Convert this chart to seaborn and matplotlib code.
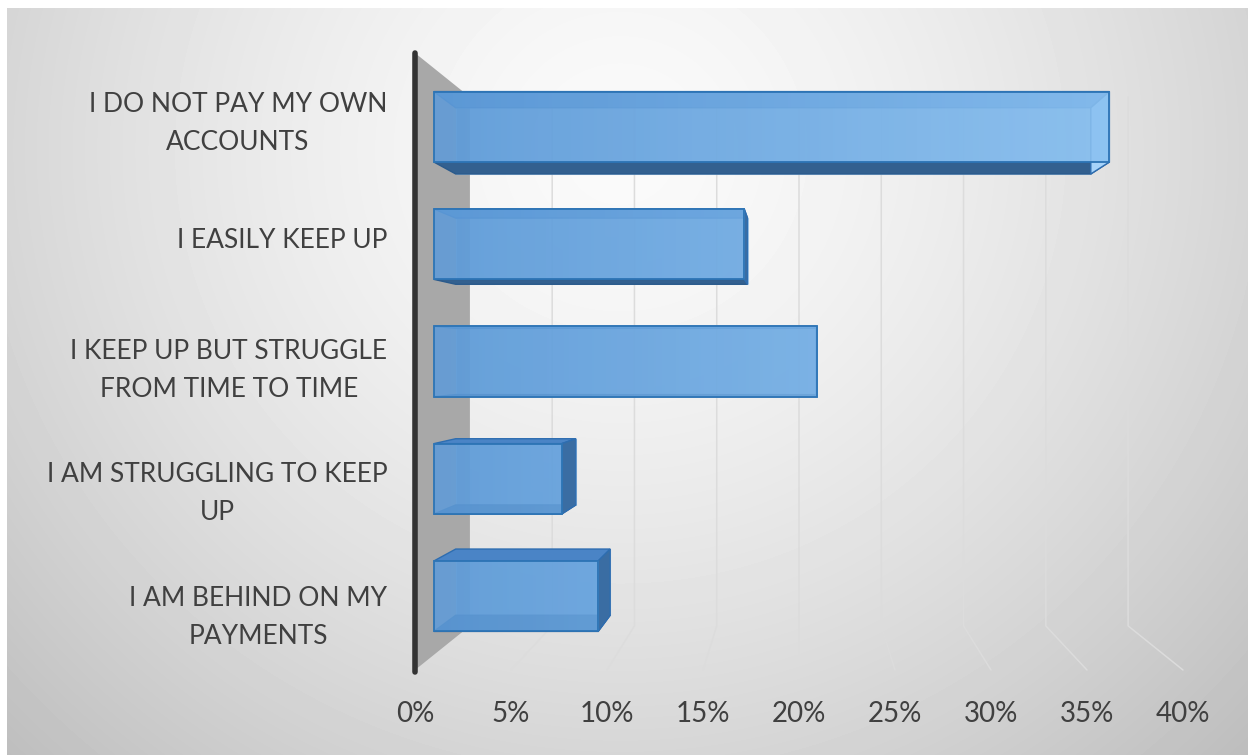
import numpy as np
import pandas as pd
import matplotlib
matplotlib.use("Agg")
import matplotlib.pyplot as plt
import matplotlib.transforms as mtransforms
from matplotlib.patches import Polygon, Rectangle
from matplotlib.colors import LinearSegmentedColormap
import seaborn as sns

# ---- data ----
categories = ["I DO NOT PAY MY OWN ACCOUNTS", "I EASILY KEEP UP",
              "I KEEP UP BUT STRUGGLE FROM TIME TO TIME",
              "I AM STRUGGLING TO KEEP UP", "I AM BEHIND ON MY PAYMENTS"]
values = [37, 17, 21, 7, 9]
category_labels = ["I DO NOT PAY MY OWN\nACCOUNTS", "I EASILY KEEP UP",
                   "I KEEP UP BUT STRUGGLE\nFROM TIME TO TIME",
                   "I AM STRUGGLING TO KEEP\nUP", "I AM BEHIND ON MY\nPAYMENTS"]
x_ticks = [0, 5, 10, 15, 20, 25, 30, 35, 40]
x_tick_labels = ["0%", "5%", "10%", "15%", "20%", "25%", "30%", "35%", "40%"]

sns.set_theme(style="white")
plt.rcParams["font.family"] = ["Lato", "DejaVu Sans"]

W, H = 1248, 755
fig = plt.figure(figsize=(W / 100, H / 100), dpi=100)
fig.patch.set_facecolor("white")

# ---- background radial gradient ----
bx0, by0 = 7, 8
bg = fig.add_axes([bx0 / W, 0, (W - bx0) / W, (H - by0) / H])
bg.set_zorder(0)
bg.axis("off")
yy, xx = np.mgrid[by0:H, bx0:W]
r = np.sqrt(((xx - 620) / 720.0) ** 2 + ((yy - 150) / 700.0) ** 2)
val = np.clip(250 - 45 * r ** 1.5, 185, 250) / 255.0
bg.imshow(val, cmap="gray", vmin=0, vmax=1, aspect="auto", interpolation="bilinear")

# ---- main axes = front plane ----
ax = fig.add_axes([415 / W, 1 - 670 / H, 768 / W, 617 / H])
ax.set_zorder(2)
ax.patch.set_alpha(0)

VPX, VPY = 20.0, 2.0
S_WALL, S_FRONT, S_BACK = 0.857, 0.951, 0.894


def proj(x, y, s):
    return VPX + (x - VPX) * s, VPY + (y - VPY) * s


def depth_tf(s):
    return mtransforms.Affine2D().translate(-VPX, -VPY).scale(s).translate(VPX, VPY)


df = pd.DataFrame({"cat": categories, "val": values})
sns.barplot(data=df, x="val", y="cat", orient="h", width=0.6, color="#5b9bd5",
            saturation=1, errorbar=None, ax=ax, zorder=6)
bars = [p for p in ax.patches if isinstance(p, Rectangle)]
ax.set_xlim(0, 40)
ax.set_ylim(4.5, -0.5)

# back wall gridlines + floor lines
for t in x_ticks[1:]:
    p1 = proj(t, -0.5, S_WALL)
    p2 = proj(t, 4.5, S_WALL)
    p3 = proj(t, 4.5, 1.0)
    ax.plot([p1[0], p2[0], p3[0]], [p1[1], p2[1], p3[1]], color="#dcdcdc",
            lw=1.1, zorder=1, clip_on=False)

# side wall
side = [proj(0, -0.5, 1.0), proj(0, -0.5, S_WALL), proj(0, 4.5, S_WALL), proj(0, 4.5, 1.0)]
ax.add_patch(Polygon(side, closed=True, facecolor="#a8a8a8", edgecolor="none",
                     zorder=1.5, clip_on=False))

grad_cmap = LinearSegmentedColormap.from_list("bargrad", ["#609cda", "#9ccffb"])

for rect in bars:
    x0, w = rect.get_x(), rect.get_width()
    y0, h = rect.get_y(), rect.get_height()
    x1, y1 = x0 + w, y0 + h
    F = lambda x, y: proj(x, y, S_FRONT)
    B = lambda x, y: proj(x, y, S_BACK)
    # back face
    ax.add_patch(Polygon([B(x0, y0), B(x1, y0), B(x1, y1), B(x0, y1)], closed=True,
                         facecolor="#5b9bd5", alpha=0.55, edgecolor="#9cc7ee",
                         lw=0.8, zorder=3))
    # top face (y0 is the upper edge because y axis is inverted)
    ax.add_patch(Polygon([F(x0, y0), F(x1, y0), B(x1, y0), B(x0, y0)], closed=True,
                         facecolor="#4a84c6", edgecolor="#2e6db0", lw=1.0, zorder=4))
    # bottom face
    ax.add_patch(Polygon([F(x0, y1), F(x1, y1), B(x1, y1), B(x0, y1)], closed=True,
                         facecolor="#33608f", edgecolor="#2a5a8c", lw=1.0, zorder=4))
    # right end face
    endc = "#a6d3fa" if x1 > VPX else "#3a6da3"
    ax.add_patch(Polygon([F(x1, y0), F(x1, y1), B(x1, y1), B(x1, y0)], closed=True,
                         facecolor=endc, edgecolor="#2e6db0", lw=1.0, zorder=4.5))
    # front face: seaborn rectangle moved to front-face depth
    rect.set_transform(depth_tf(S_FRONT) + ax.transData)
    rect.set_alpha(0.18)
    rect.set_edgecolor("#2e75b6")
    rect.set_linewidth(1.3)
    rect.set_zorder(7)
    # gradient fill clipped to the front face
    fx0, fy0 = F(x0, y0)
    fx1, fy1 = F(x1, y1)
    gx = np.linspace(x0 / 40.0, x1 / 40.0, 64).reshape(1, -1)
    im = ax.imshow(gx, cmap=grad_cmap, vmin=0, vmax=1, aspect="auto",
                   extent=[fx0, fx1, fy1, fy0], zorder=5, alpha=0.85,
                   interpolation="bilinear")
    im.set_clip_path(rect)
    # re-stroke the front outline at full opacity
    ax.add_patch(Rectangle((x0, y0), w, h, transform=depth_tf(S_FRONT) + ax.transData,
                           facecolor="none", edgecolor="#2e75b6", lw=1.3, zorder=7.5))

ax.set_xlim(0, 40)
ax.set_ylim(4.5, -0.5)

# vertical axis line
ax.plot([0, 0], [-0.5, 4.52], color="#333333", lw=4, solid_capstyle="round",
        zorder=8, clip_on=False)

ax.set_xticks(x_ticks, labels=x_tick_labels)
ax.set_yticks(range(len(category_labels)), labels=category_labels)
ax.tick_params(axis="x", length=0, pad=22, labelsize=20, labelcolor="#404040")
ax.tick_params(axis="y", length=0, pad=20, labelsize=19, labelcolor="#404040")
for lab in ax.get_yticklabels():
    lab.set_multialignment("center")
    lab.set_linespacing(1.65)
ax.set_xlabel("")
ax.set_ylabel("")
for sp in ax.spines.values():
    sp.set_visible(False)
ax.grid(False)

fig.savefig("out.png", dpi=100, facecolor="white")
